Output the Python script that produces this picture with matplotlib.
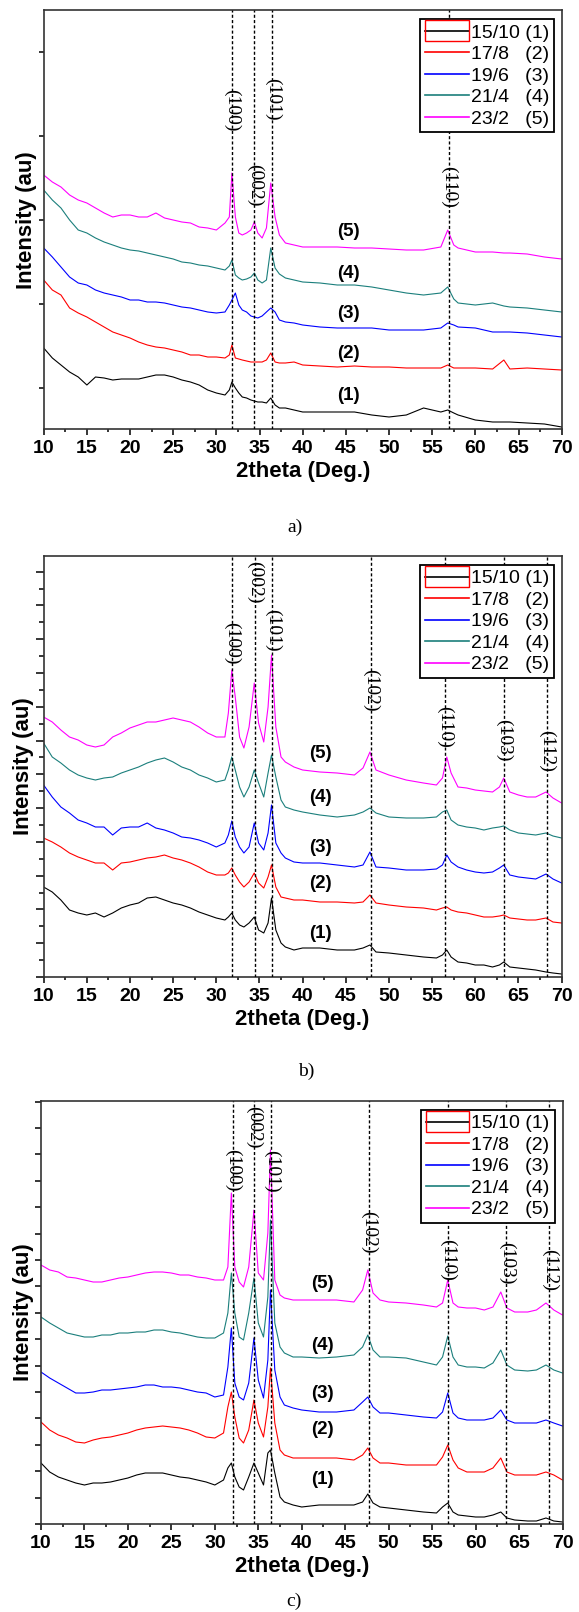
import matplotlib.pyplot as plt
from matplotlib.ticker import MultipleLocator, FixedLocator
from matplotlib.patches import Rectangle

plt.rcParams['font.family'] = ['Liberation Sans', 'DejaVu Sans']

# ---- legend / series styling ----
labels = ['15/10 (1)', '17/8   (2)', '19/6   (3)', '21/4   (4)', '23/2   (5)']
colors = ['black', 'red', 'blue', '#1b7f7c', 'magenta']
numbers = ['(1)', '(2)', '(3)', '(4)', '(5)']

# ---- panel a) ----
xa = [10, 11, 12, 13, 14, 15, 16, 17, 18, 19, 20, 21, 22, 23, 24, 25, 26, 27, 28, 29, 30,
      31, 31.5, 31.8, 32.2, 32.6, 33, 33.5, 34, 34.4, 34.8, 35.3, 35.8, 36.3, 36.8, 37.3, 38, 39, 40,
      42, 44, 46, 48, 50, 52, 54, 56,
      56.8, 57.5, 58, 60, 62, 63.3, 64, 66, 68, 70]
a1 = [810, 710, 640, 570, 520, 440, 520, 510, 490, 500, 500, 500, 520, 540, 540, 520, 490, 470, 440, 390, 360,
      340, 390, 470, 410, 360, 320, 310, 290, 280, 270, 270, 260, 310, 240, 210, 210, 190, 170,
      170, 170, 170, 140, 120, 140, 210, 170,
      190, 160, 140, 90, 70, 70, 70, 60, 50, 20]
a2 = [1490, 1390, 1340, 1210, 1160, 1120, 1070, 1020, 970, 940, 910, 870, 840, 820, 810, 790, 770, 740, 740, 720, 720,
      710, 740, 840, 710, 700, 690, 680, 670, 670, 670, 670, 690, 760, 670, 660, 660, 670, 640,
      630, 620, 630, 620, 620, 610, 610, 610,
      640, 610, 610, 610, 600, 690, 600, 610, 600, 590]
a3 = [1810, 1720, 1620, 1520, 1460, 1440, 1390, 1360, 1340, 1320, 1290, 1290, 1270, 1270, 1260, 1240, 1220, 1210, 1190, 1170, 1160,
      1170, 1240, 1290, 1360, 1240, 1190, 1170, 1130, 1120, 1110, 1130, 1170, 1210, 1170, 1090, 1070, 1060, 1040,
      1020, 1010, 1010, 1010, 990, 990, 990, 1010,
      1060, 1040, 1020, 1010, 970, 970, 970, 960, 940, 920]
a4 = [2390, 2290, 2210, 2090, 1990, 1960, 1910, 1870, 1840, 1810, 1790, 1780, 1760, 1740, 1720, 1700, 1670, 1660, 1640, 1630, 1610,
      1590, 1630, 1690, 1540, 1510, 1490, 1500, 1520, 1560, 1490, 1460, 1490, 1810, 1610, 1550, 1510, 1490, 1470,
      1460, 1440, 1440, 1420, 1390, 1360, 1340, 1360,
      1420, 1300, 1260, 1240, 1260, 1230, 1220, 1210, 1190, 1170]
a5 = [2540, 2470, 2420, 2340, 2290, 2260, 2210, 2160, 2120, 2140, 2140, 2120, 2120, 2160, 2110, 2090, 2070, 2060, 2020, 2010, 1990,
      2060, 2120, 2560, 2120, 1960, 1940, 1960, 1990, 2070, 1960, 1910, 2010, 2460, 2120, 1940, 1860, 1840, 1820,
      1820, 1820, 1810, 1810, 1800, 1790, 1790, 1820,
      1990, 1840, 1810, 1770, 1770, 1760, 1760, 1750, 1720, 1700]
peaks_a = [31.8, 34.4, 36.5, 56.9]
hkl_a = ['(100)', '(002)', '(101)', '(110)']

# ---- panel b) ----
xb = [10, 11, 12, 13, 14, 15, 16, 17, 18, 19, 20, 21, 22, 23, 24, 25, 26, 27, 28, 29, 30,
      31, 31.4, 31.8, 32.2, 32.7, 33.2, 33.8, 34.4, 34.9, 35.5, 36, 36.4, 36.9, 37.5, 38, 39, 40,
      42, 44, 46, 47, 47.8, 48.5, 50, 52, 54, 55.5, 56.2, 56.7, 57.2, 58, 59, 60, 61, 62, 62.8, 63.3,
      64, 65, 66, 67, 68.2, 69, 70]
b1 = [900, 850, 770, 670, 640, 620, 640, 600, 640, 690, 720, 740, 790, 800, 770, 740, 720, 690, 650, 620, 590,
      570, 600, 640, 570, 520, 500, 540, 600, 470, 440, 540, 790, 470, 340, 300, 270, 290,
      290, 270, 270, 290, 320, 250, 240, 220, 200, 190, 220, 270, 200, 150, 140, 120, 120, 100, 120, 150,
      100, 90, 80, 70, 50, 40, 30]
b2 = [1390, 1350, 1300, 1240, 1200, 1170, 1140, 1140, 1070, 1140, 1150, 1170, 1190, 1200, 1220, 1190, 1170, 1140, 1100, 1050, 1020,
      1020, 1040, 1090, 1020, 950, 900, 950, 1040, 940, 890, 1000, 1120, 900, 800, 790, 770, 770,
      750, 750, 740, 750, 820, 740, 720, 700, 690, 670, 690, 700, 670, 650, 640, 620, 600, 600, 610, 620,
      590, 580, 570, 570, 590, 550, 540]
b3 = [1920, 1800, 1700, 1640, 1570, 1540, 1500, 1500, 1420, 1490, 1500, 1500, 1540, 1490, 1470, 1440, 1400, 1390, 1370, 1340, 1300,
      1340, 1420, 1560, 1400, 1300, 1240, 1300, 1540, 1340, 1270, 1440, 1720, 1340, 1240, 1190, 1150, 1140,
      1140, 1120, 1100, 1120, 1250, 1100, 1090, 1070, 1070, 1080, 1120, 1220, 1150, 1100, 1070, 1050, 1040, 1050, 1090, 1120,
      1020, 1000, 990, 980, 1030, 980, 940]
b4 = [2340, 2200, 2140, 2070, 2020, 1990, 1970, 1990, 2000, 2040, 2070, 2100, 2140, 2170, 2190, 2150, 2100, 2070, 2020, 1990, 1950,
      1970, 2070, 2200, 2070, 1900, 1800, 1900, 2070, 1940, 1800, 2040, 2220, 2000, 1770, 1700, 1670, 1650,
      1620, 1600, 1620, 1650, 1690, 1640, 1600, 1590, 1590, 1600, 1650, 1670, 1570, 1520, 1500, 1490, 1470, 1490, 1500, 1510,
      1470, 1440, 1430, 1420, 1440, 1410, 1390]
b5 = [2600, 2550, 2470, 2400, 2370, 2320, 2300, 2320, 2400, 2440, 2490, 2520, 2550, 2550, 2570, 2590, 2570, 2550, 2500, 2440, 2400,
      2400, 2640, 3070, 2800, 2400, 2290, 2500, 2940, 2540, 2350, 2700, 3220, 2500, 2200, 2150, 2100, 2070,
      2050, 2040, 2020, 2090, 2250, 2070, 2020, 1970, 1940, 1920, 1990, 2200, 2040, 1900, 1890, 1870, 1860, 1850, 1900, 1990,
      1850, 1820, 1800, 1800, 1850, 1790, 1740]
peaks_b = [31.8, 34.45, 36.5, 47.95, 56.45, 63.35, 68.3]
hkl_b = ['(100)', '(002)', '(101)', '(102)', '(110)', '(103)', '(112)']

# ---- panel c) ----
xc = [10, 11, 12, 13, 14, 15, 16, 17, 18, 19, 20, 21, 22, 23, 24, 25, 26, 27, 28, 29, 30,
      31, 31.5, 31.9, 32.3, 32.8, 33.3, 33.9, 34.5, 35, 35.6, 36.1, 36.4, 36.9, 37.5, 38, 39, 40,
      42, 44, 46, 47, 47.6, 48.2, 49, 50, 52, 54, 55.5, 56.2, 56.8, 57.4, 58, 59, 60, 61, 62, 62.9, 63.6,
      64.5, 66, 67, 68.1, 69, 70]
c1 = [610, 520, 470, 440, 410, 390, 410, 410, 420, 440, 460, 490, 510, 510, 510, 490, 470, 460, 440, 420, 390,
      440, 560, 610, 470, 370, 340, 470, 610, 510, 390, 710, 740, 510, 270, 220, 190, 170,
      190, 190, 190, 220, 300, 210, 170, 160, 140, 120, 110, 170, 210, 120, 90, 80, 70, 70, 90, 120, 60,
      40, 30, 30, 60, 30, 20]
c2 = [1020, 940, 890, 860, 820, 810, 840, 860, 870, 890, 910, 940, 960, 970, 980, 970, 960, 940, 910, 870, 860,
      910, 1170, 1320, 1070, 860, 810, 940, 1240, 1010, 870, 1170, 1560, 1010, 740, 690, 660, 660,
      660, 660, 640, 690, 760, 660, 610, 610, 590, 590, 590, 670, 790, 640, 560, 520, 520, 520, 560, 660, 520,
      490, 490, 490, 520, 490, 440]
c3 = [1520, 1460, 1410, 1360, 1310, 1310, 1320, 1340, 1340, 1350, 1360, 1370, 1390, 1390, 1370, 1370, 1360, 1340, 1320, 1310, 1270,
      1290, 1570, 1960, 1410, 1270, 1240, 1410, 1860, 1440, 1260, 1640, 2340, 1540, 1270, 1190, 1160, 1140,
      1120, 1120, 1140, 1220, 1270, 1170, 1110, 1110, 1090, 1070, 1060, 1120, 1310, 1110, 1060, 1040, 1040, 1040, 1060, 1140, 1040,
      1010, 1010, 1010, 1040, 1010, 980]
c4 = [2070, 2010, 1960, 1910, 1890, 1870, 1870, 1890, 1890, 1910, 1910, 1920, 1920, 1940, 1940, 1920, 1910, 1890, 1870, 1860, 1860,
      1910, 2110, 2510, 2110, 1870, 1840, 2110, 2460, 2010, 1870, 2270, 3040, 2010, 1770, 1710, 1670, 1670,
      1660, 1670, 1690, 1770, 1890, 1740, 1670, 1670, 1660, 1620, 1590, 1670, 1880, 1670, 1590, 1570, 1570, 1560, 1610, 1740, 1590,
      1540, 1530, 1540, 1590, 1540, 1510]
c5 = [2590, 2540, 2520, 2470, 2460, 2440, 2420, 2420, 2440, 2460, 2470, 2490, 2510, 2520, 2520, 2510, 2490, 2490, 2470, 2460, 2440,
      2440, 2570, 3310, 2570, 2420, 2370, 2570, 3140, 2510, 2440, 2910, 3740, 2440, 2290, 2260, 2240, 2240,
      2240, 2240, 2220, 2340, 2540, 2310, 2240, 2220, 2210, 2190, 2170, 2210, 2440, 2210, 2170, 2160, 2160, 2140, 2170, 2320, 2160,
      2120, 2120, 2140, 2210, 2140, 2090]
peaks_c = [32.1, 34.45, 36.5, 47.75, 56.8, 63.55, 68.5]
hkl_c = ['(100)', '(002)', '(101)', '(102)', '(110)', '(103)', '(112)']

# where the annotations sit (intensity units of each panel)
hkl_a_y = [3190, 2440, 3300, 2420]
hkl_b_y = [3340, 3950, 3470, 2870, 2500, 2370, 2260]
hkl_c_y = [3540, 3970, 3530, 2920, 2640, 2610, 2540]
num_a = (45.3, [340, 750, 1160, 1560, 1970])
num_b = (42.1, [440, 940, 1290, 1790, 2240])
num_c = (42.4, [440, 940, 1310, 1790, 2410])

fig = plt.figure(figsize=(5.79, 16.12), dpi=100)
W, H = 579.0, 1612.0


def make_axes(left, right, top, bottom):
    return fig.add_axes([left / W, 1 - bottom / H, (right - left) / W, (bottom - top) / H])


def draw_panel(ax, x, curves, ymax, peaks, hkl, hkl_y, nums, tag, tag_pos):
    for y, c, lab in zip(curves, colors, labels):
        ax.plot(x, y, color=c, lw=0.8, label=lab)
    for p, t, ty in zip(peaks, hkl, hkl_y):
        ax.axvline(p, color='black', lw=1.0, ls=(0, (2.2, 1.6)), zorder=3)
        ax.text(p, ty, t, rotation=270, ha='center', va='center', fontsize=14,
                family='Liberation Serif', zorder=4)
    nx, ny = nums
    for t, yy in zip(numbers, ny):
        ax.text(nx, yy, t, ha='center', va='center', fontsize=13.5, fontweight='bold')

    ax.set_xlim(10, 70)
    ax.set_ylim(0, ymax)
    ax.xaxis.set_major_locator(MultipleLocator(5))
    ax.xaxis.set_minor_locator(MultipleLocator(2.5))
    ax.tick_params(axis='x', which='major', direction='out', length=4, width=1.1,
                   labelsize=14, pad=4)
    ax.tick_params(axis='x', which='minor', direction='out', length=2.5, width=1.1)
    ax.tick_params(axis='y', which='both', direction='out', width=1.1, labelleft=False)
    for lab in ax.get_xticklabels():
        lab.set_fontweight('bold')
    for s in ax.spines.values():
        s.set_linewidth(1.2)
        s.set_color('#333333')
    ax.set_xlabel('2theta (Deg.)', fontsize=16, fontweight='bold', labelpad=3)
    ax.set_ylabel('Intensity (au)', fontsize=16, fontweight='bold', labelpad=1)

    leg = ax.legend(loc='upper right', bbox_to_anchor=(0.985, 0.979), borderaxespad=0,
                    fontsize=14, frameon=True, fancybox=False, framealpha=1,
                    edgecolor='black', borderpad=0.25, handlelength=2.25,
                    handletextpad=0.1, labelspacing=0.2)
    leg.get_frame().set_linewidth(1.3)
    for ln in leg.get_lines():
        ln.set_linewidth(1.2)

    fig.text(tag_pos[0] / W, 1 - tag_pos[1] / H, tag, ha='center', va='center',
             fontsize=14, family='Liberation Serif')
    return leg


ax_a = make_axes(43.7, 561.7, 10.3, 429)
leg_a = draw_panel(ax_a, xa, [a1, a2, a3, a4, a5], 4187, peaks_a, hkl_a, hkl_a_y, num_a,
                   'a)', (295, 527))
ax_a.yaxis.set_major_locator(FixedLocator([410, 1250, 2090, 2930, 3770]))
ax_a.tick_params(axis='y', which='major', length=3.5)

ax_b = make_axes(43.6, 561.6, 556, 977)
leg_b = draw_panel(ax_b, xb, [b1, b2, b3, b4, b5], 4210, peaks_b, hkl_b, hkl_b_y, num_b,
                   'b)', (306, 1071))
ax_b.yaxis.set_major_locator(MultipleLocator(337.8))
ax_b.yaxis.set_minor_locator(MultipleLocator(168.9))
ax_b.tick_params(axis='y', which='major', length=6)
ax_b.tick_params(axis='y', which='minor', length=3.8)

ax_c = make_axes(41, 562.5, 1101, 1524)
leg_c = draw_panel(ax_c, xc, [c1, c2, c3, c4, c5], 4230, peaks_c, hkl_c, hkl_c_y, num_c,
                   'c)', (294, 1601))
ax_c.yaxis.set_major_locator(MultipleLocator(528))
ax_c.yaxis.set_minor_locator(MultipleLocator(264))
ax_c.tick_params(axis='y', which='major', length=4)
ax_c.tick_params(axis='y', which='minor', length=4)

# red box drawn around the first legend handle, as in the original figure
fig.canvas.draw()
renderer = fig.canvas.get_renderer()
for leg in (leg_a, leg_b, leg_c):
    bb = leg.get_lines()[0].get_window_extent(renderer)
    cy = (bb.y0 + bb.y1) / 2
    fig.add_artist(Rectangle((bb.x0 / W, (cy - 10.5) / H), (bb.x1 - bb.x0) / W, 21 / H,
                             transform=fig.transFigure, fill=False, edgecolor='red',
                             lw=1.0, zorder=10))

fig.savefig('out.png', dpi=100)
